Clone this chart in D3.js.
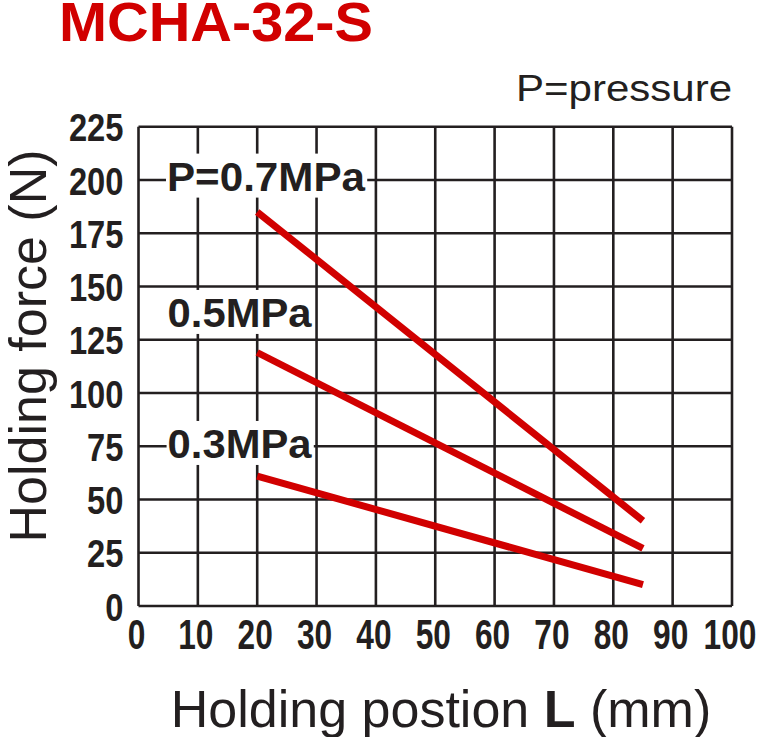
<!DOCTYPE html>
<html>
<head>
<meta charset="utf-8">
<script src="https://cdn.jsdelivr.net/npm/d3@7"></script>
<style>
  body { margin: 0; background: #fff; }
  svg { display: block; }
  .tick-label { font-family: "Liberation Sans", Arial, sans-serif; font-weight: bold; fill: #231f20; }
</style>
</head>
<body>
<svg width="758" height="737"></svg>
<script>
const title = "MCHA-32-S";
const xTicks = [0, 10, 20, 30, 40, 50, 60, 70, 80, 90, 100];
const yTicks = [0, 25, 50, 75, 100, 125, 150, 175, 200, 225];
const positions = [20, 85];
const force07 = [185, 40];
const force05 = [119, 27];
const force03 = [61, 10];
const seriesNames = ["P=0.7MPa", "0.5MPa", "0.3MPa"];
// label anchors in data units: left x, baseline y
const labelX = [4.8, 4.9, 4.9];
const labelY = [195, 131, 69.5];

const ink = "#231f20";
const red = "#d10000";
const digitW = 17.6; // condensed digit width of the tick labels

const svg = d3.select("svg");
const x = d3.scaleLinear().domain([0, 100]).range([138.5, 732]);
const y = d3.scaleLinear().domain([0, 225]).range([606, 126.7]);

// title
svg.append("text")
    .attr("x", 59).attr("y", 41)
    .attr("font-family", "Liberation Sans, Arial, sans-serif")
    .attr("font-weight", "bold")
    .attr("font-size", 55)
    .attr("fill", red)
    .attr("textLength", 314)
    .attr("lengthAdjust", "spacingAndGlyphs")
    .text(title);

svg.append("text")
    .attr("x", 516).attr("y", 101)
    .attr("font-family", "Liberation Sans, Arial, sans-serif")
    .attr("font-size", 37)
    .attr("fill", ink)
    .attr("textLength", 216)
    .attr("lengthAdjust", "spacingAndGlyphs")
    .text("P=pressure");

// grid
const grid = svg.append("g");
grid.selectAll(".vx").data(xTicks).join("line")
    .attr("x1", d => x(d)).attr("x2", d => x(d))
    .attr("y1", y(0)).attr("y2", y(225))
    .attr("stroke", ink).attr("stroke-width", 2.6);
grid.selectAll(".hy").data(yTicks).join("line")
    .attr("x1", x(0)).attr("x2", x(100))
    .attr("y1", d => y(d)).attr("y2", d => y(d))
    .attr("stroke", ink).attr("stroke-width", 2.6);

// axes (labels only)
const xAxis = svg.append("g")
    .attr("transform", `translate(0,${y(0)})`)
    .call(d3.axisBottom(x).tickValues(xTicks).tickSize(0).tickPadding(0).tickFormat(d3.format("d")));
xAxis.select(".domain").remove();
xAxis.selectAll("text")
    .attr("class", "tick-label")
    .attr("font-size", 42)
    .attr("dy", null).attr("y", 43).attr("x", -2.5)
    .attr("textLength", d => String(d).length * digitW)
    .attr("lengthAdjust", "spacingAndGlyphs");

const yAxis = svg.append("g")
    .attr("transform", `translate(${x(0)},0)`)
    .call(d3.axisLeft(y).tickValues(yTicks).tickSize(0).tickPadding(0).tickFormat(d3.format("d")));
yAxis.select(".domain").remove();
yAxis.selectAll("text")
    .attr("class", "tick-label")
    .attr("font-size", 39)
    .attr("x", -15).attr("dy", "0.36em")
    .attr("textLength", d => String(d).length * 18.2)
    .attr("lengthAdjust", "spacingAndGlyphs");

// labels with white backing
const labels = svg.append("g");
seriesNames.forEach((name, i) => {
    const t = labels.append("text")
        .attr("x", x(labelX[i])).attr("y", y(labelY[i]))
        .attr("font-family", "Liberation Sans, Arial, sans-serif")
        .attr("font-weight", "bold")
        .attr("font-size", 41)
        .attr("fill", ink)
        .attr("textLength", i === 0 ? 198 : 144)
        .attr("lengthAdjust", "spacingAndGlyphs")
        .text(name);
    const b = t.node().getBBox();
    labels.insert("rect", "text")
        .attr("x", b.x - 1).attr("y", y(labelY[i]) - 37)
        .attr("width", b.width + 2).attr("height", 44)
        .attr("fill", "#fff");
});

// series lines
const line = d3.line().x((d, i) => x(positions[i])).y(d => y(d));
[force07, force05, force03].forEach(s => {
    svg.append("path")
        .datum(s)
        .attr("d", line)
        .attr("fill", "none")
        .attr("stroke", red)
        .attr("stroke-width", 7);
});

// axis titles
const xt = svg.append("text")
    .attr("x", 441).attr("y", 727)
    .attr("text-anchor", "middle")
    .attr("font-family", "Liberation Sans, Arial, sans-serif")
    .attr("font-size", 52)
    .attr("fill", ink);
xt.append("tspan").text("Holding postion ");
xt.append("tspan").attr("font-weight", "bold").text("L");
xt.append("tspan").text(" (mm)");

svg.append("text")
    .attr("transform", `translate(46,346) rotate(-90)`)
    .attr("text-anchor", "middle")
    .attr("font-family", "Liberation Sans, Arial, sans-serif")
    .attr("font-size", 52)
    .attr("fill", ink)
    .text("Holding force (N)");
</script>
</body>
</html>
